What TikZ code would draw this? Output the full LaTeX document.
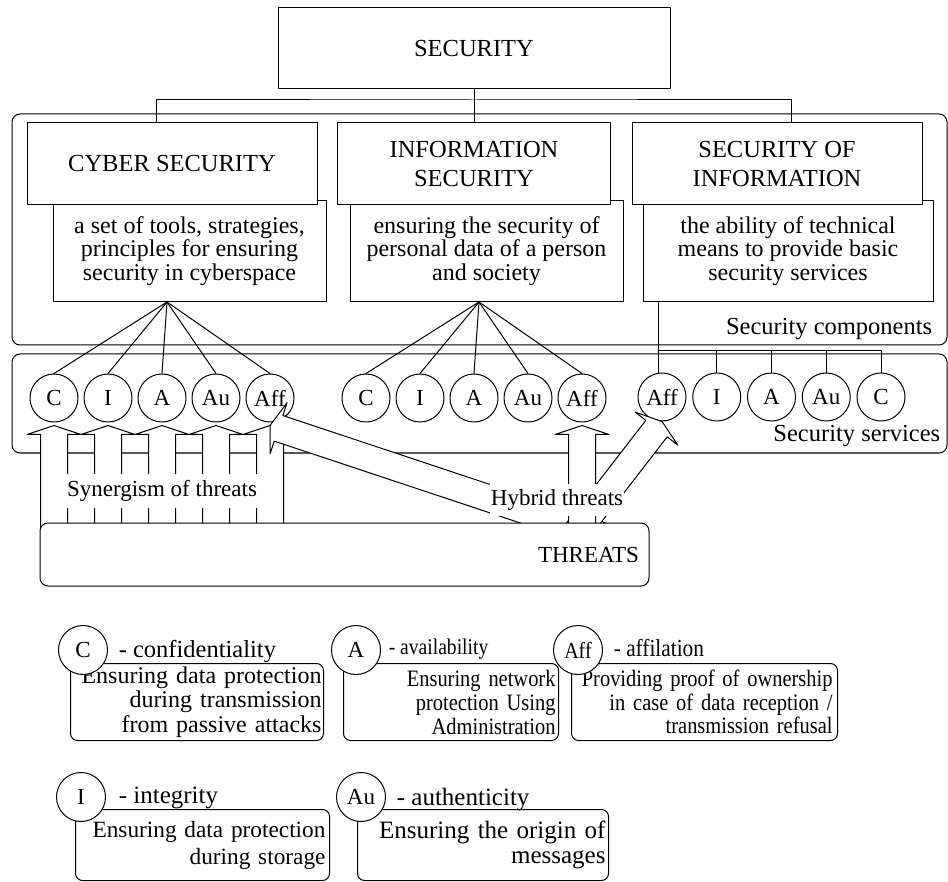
\documentclass[tikz,border=0pt]{standalone}
\usepackage{fontspec}
\setmainfont{Liberation Serif}
\newfontfamily\narrowrm[FakeStretch=0.87]{Liberation Serif}
\usetikzlibrary{arrows}
\newcommand{\fsz}[2]{\fontsize{#1}{#2}\selectfont}

\begin{document}
\begin{tikzpicture}[line cap=round,line join=round,line width=1pt,x=1pt,y=-1pt,
frame/.style={draw,rounded corners=8pt},
box/.style={draw,fill=white,align=center,inner sep=0pt,font=\fsz{24.5}{29}},
descbox/.style={box,anchor=north,minimum height=101pt,font=\fsz{24}{23.3}},
serv/.style={draw,fill=white,circle,minimum size=48pt,inner sep=0pt,font=\fsz{23}{26}},
legc/.style={serv,minimum size=49pt},
legbox/.style={draw,rounded corners=7pt,align=right,anchor=north west,inner ysep=0pt},
blk/.style={draw,fill=white},
lbl/.style={fill=white,inner xsep=1pt,inner ysep=6pt,font=\fsz{23}{26}}]
\useasboundingbox (0,0) rectangle (948,882);
\draw[frame] (12,114) rectangle (947,345);
\draw[frame] (12,354) rectangle (947,453);
\node[anchor=base east,font=\fsz{24.5}{29}] (compl) at (936,335) {Security components};
\node[anchor=base east,font=\fsz{24.5}{29}] (servl) at (944,442) {Security services};
\node[box,minimum width=392pt,minimum height=81pt] (sec) at (474,48.5) {SECURITY};
\node[descbox,minimum width=273pt] (cyberd) at (189.5,200) {a set of tools, strategies,\\principles for ensuring\\security in cyberspace};
\node[descbox,minimum width=273pt] (infod) at (486.5,200) {ensuring the security of\\personal data of a person\\and society};
\node[descbox,minimum width=290pt] (sod) at (788,200) {the ability of technical\\means to provide basic\\security services};
\node[box,minimum width=290pt,minimum height=82pt] (cyber) at (172,164) {CYBER SECURITY};
\node[box,minimum width=273pt,minimum height=82pt] (info) at (474,164) {INFORMATION\\SECURITY};
\node[box,minimum width=290pt,minimum height=82pt] (so) at (777,164) {SECURITY OF\\INFORMATION};
\coordinate (bus) at (474,100);
\draw (sec.south) -- (info.north);
\draw ([xshift=-16pt]cyber.north) |- (bus) -| ([xshift=14pt]so.north);
\foreach \n/\t [count=\i from 0] in {c/C,i/I,a/A,au/Au,aff/Aff}{
\node[serv] (cy\n) at (54+54*\i,398) {\t};
\node[serv] (in\n) at (366+54*\i,398) {\t};
}
\foreach \n/\t [count=\i from 0] in {aff/Aff,i/I,a/A,au/Au,c/C}
\node[serv] (so\n) at (662+54.75*\i,397) {\t};
\foreach \n in {c,i,a,au,aff}{
\draw ([xshift=-22.5pt]cyberd.south) -- (cy\n.north);
\draw ([xshift=-7.5pt]infod.south) -- (in\n.north);
}
\draw ([xshift=-130pt]sod.south) -- ([xshift=-4pt]soaff.north);
\coordinate (sobus) at (658,351);
\draw (sobus) -- (soc.north |- sobus);
\foreach \n in {i,a,au,c}
\draw (so\n.north) -- (so\n.north |- sobus);
\foreach \n in {c,i,a,au,aff}
\draw[blk,shift={([yshift=-3pt]cy\n.south)}] (0,0) -- (27,9) -- (13.5,9) -- (13.5,140) -- (-13.5,140) -- (-13.5,9) -- (-27,9) -- cycle;
\draw[blk,shift={([yshift=-3pt]cyaff.south)},rotate=71.6] (0,0) -- (27,9) -- (13.5,9) -- (13.5,360) -- (-13.5,360) -- (-13.5,9) -- (-27,9) -- cycle;
\draw[blk,shift={(soaff.south)},rotate=-37.7] (0,0) -- (27,9) -- (13.5,9) -- (13.5,150) -- (-13.5,150) -- (-13.5,9) -- (-27,9) -- cycle;
\draw[blk,shift={([yshift=-3pt]inaff.south)}] (0,0) -- (27,9) -- (13.5,9) -- (13.5,140) -- (-13.5,140) -- (-13.5,9) -- (-27,9) -- cycle;
\node[draw,fill=white,rounded corners=8pt,minimum height=63pt,text width=589pt,align=right,inner xsep=10pt,inner ysep=0pt,font=\fsz{23}{26}] (threats) at (344.5,554.5) {THREATS};
\node[lbl] (syn) at (162,491) {Synergism of threats};
\node[lbl] (hyb) at (557,500) {Hybrid threats};
\node[legbox,text width=249pt,inner xsep=2pt,minimum height=77pt,font=\fsz{24}{24.5}] (cbox) at (70,663) {Ensuring data protection\\during transmission\\from passive attacks};
\node[legc] (cleg) at (83,650) {C};
\node[anchor=base west,font=\fsz{24.5}{29}] (ctxt) at (115,657) {- confidentiality};
\node[legbox,text width=209pt,inner xsep=3pt,minimum height=77pt,font=\narrowrm\fsz{23.5}{24}] (abox) at (343,663) {Ensuring network\\protection Using\\Administration};
\node[legc] (aleg) at (356,650) {A};
\node[anchor=base west,font=\narrowrm\fsz{22.5}{24}] (atxt) at (385,654) {- availability};
\node[legbox,text width=256pt,inner xsep=5pt,minimum height=77pt,font=\narrowrm\fsz{23.5}{23.5}] (affbox) at (571,663) {Providing proof of ownership\\in case of data reception /\\transmission refusal};
\node[legc,font=\narrowrm\fsz{23}{24}] (affleg) at (578,650) {Aff};
\node[anchor=base west,font=\narrowrm\fsz{24.5}{24}] (afftxt) at (610,656) {- affilation};
\node[legbox,text width=246pt,inner xsep=4pt,minimum height=71pt,font=\fsz{23.3}{27}] (ibox) at (75,809) {Ensuring data protection\\during storage};
\node[legc] (ileg) at (81,797) {I};
\node[anchor=base west,font=\fsz{25}{29}] (itxt) at (115,803) {- integrity};
\node[legbox,text width=245pt,inner xsep=3pt,minimum height=71pt,font=\fsz{25}{24.5}] (aubox) at (357,809) {Ensuring the origin of\\messages};
\node[legc] (auleg) at (361,797) {Au};
\node[anchor=base west,font=\fsz{25}{29}] (autxt) at (393,805) {- authenticity};
\end{tikzpicture}
\end{document}
